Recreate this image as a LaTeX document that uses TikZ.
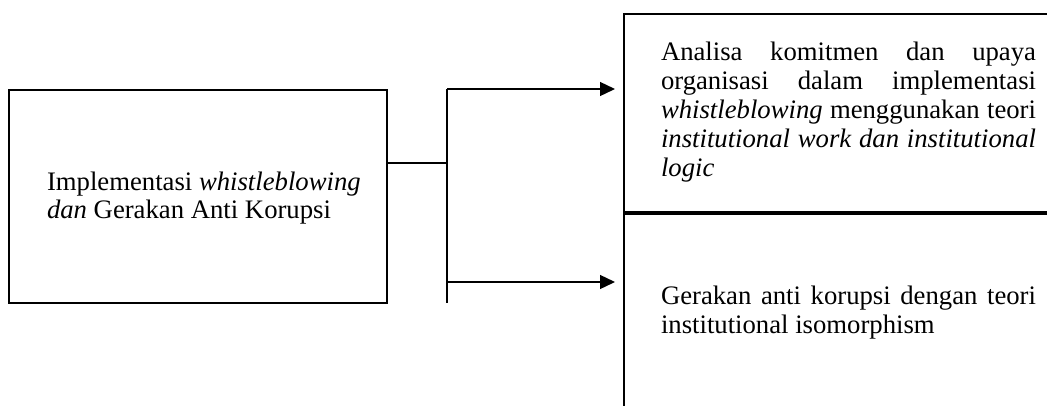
\documentclass[tikz,border=0pt]{standalone}
\usepackage{fontspec}
\setmainfont{Liberation Serif}
\usetikzlibrary{arrows.meta}

\tikzset{
  framebox/.style={draw, line width=2pt, outer sep=0pt, inner sep=0pt},
  thickframe/.style={draw, line width=2.7pt, outer sep=0pt, inner sep=0pt},
  bodytext/.style={inner sep=0pt, outer sep=0pt, font=\fontsize{26.7}{29}\selectfont},
  para/.style={bodytext, text width=375pt, align=justify,
    execute at begin node={\hyphenpenalty=10000\exhyphenpenalty=10000\tolerance=9999\emergencystretch=20pt}},
  link/.style={line width=1.3pt},
  linkarrow/.style={link, -{Triangle[length=15pt,width=14pt]}, shorten >=9pt},
}

\begin{document}
\begin{tikzpicture}[x=1pt, y=-1pt]
  \useasboundingbox (0,0) rectangle (1047,405);
  \clip (0,0) rectangle (1047,405);

  % source box on the left
  \node[framebox, minimum width=378pt, minimum height=213pt] (src) at (198,196.5) {};
  \node[bodytext, anchor=north west, align=left,
        font=\fontsize{26.7}{28}\selectfont] (srclabel) at (47,171.8)
    {Implementasi \textit{whistleblowing}\\\textit{dan} Gerakan Anti Korupsi};

  % two stacked boxes on the right, running off the page edge
  \node[thickframe, minimum width=446pt, minimum height=199pt] (analysis) at (847,113.5) {};
  \node[thickframe, minimum width=446pt, minimum height=217pt] (movement) at (847,321.5) {};
  % heavier rule between the two right boxes
  \draw[line width=4.2pt] (analysis.south west) -- (analysis.south east);

  \node[para, anchor=north west] (analysistext) at (661,41.7)
    {Analisa komitmen dan upaya organisasi dalam implementasi
     \textit{whistleblowing} menggunakan teori \textit{institutional work dan
     institutional logic}};
  \node[para, anchor=north west] (movementtext) at (661,285.7)
    {Gerakan anti korupsi dengan teori institutional isomorphism};

  % branching connector
  \coordinate (branch) at (447,163);
  \coordinate (branchtop) at (447,89);
  \coordinate (branchlow) at (447,282);
  \coordinate (branchend) at (447,303);

  \draw[link] (src.east |- branch) -- (branch);
  \draw[link] (branchtop) -- (branchend);
  \draw[linkarrow] (branchtop) -- (branchtop -| analysis.west);
  \draw[linkarrow] (branchlow) -- (branchlow -| movement.west);
\end{tikzpicture}
\end{document}
